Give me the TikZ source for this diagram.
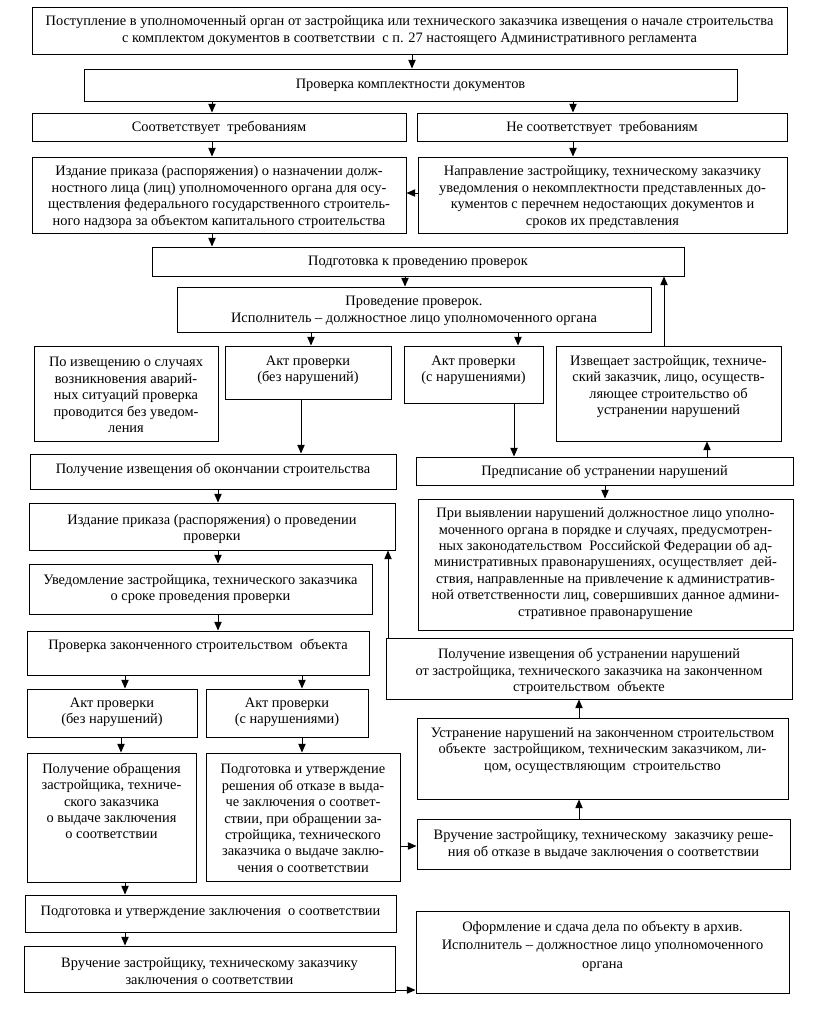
\documentclass[tikz,border=0pt]{standalone}
\usepackage{fontspec}
\setmainfont{Liberation Serif}
\usetikzlibrary{fit,calc,arrows.meta}
\tikzset{
  box/.style={draw, line width=0.75pt, inner sep=0pt, rectangle},
  txt/.style={align=center, inner sep=0pt, font=\fontsize{10.8}{12.3}\selectfont},
  arr/.style={line width=0.7pt, -{Triangle[length=6.5pt,width=5.5pt]}},
}
\newcommand\bx[7]{%
  \node[box, fit={(#2,#3) (#4,#5)}] (#1) {};
  \node[txt] (#1t) at ({(#2+#4)/2},#6) {#7};}
\newcommand\down[3]{\coordinate (tmp#1#2) at (#3,0); \draw[arr] (#1.south -| tmp#1#2) -- (#2.north -| tmp#1#2);}
\newcommand\up[3]{\coordinate (tmp#1#2) at (#3,0); \draw[arr] (#1.north -| tmp#1#2) -- (#2.south -| tmp#1#2);}
\newcommand\toleft[3]{\coordinate (tmp#1#2) at (0,#3); \draw[arr] (#1.west |- tmp#1#2) -- (#2.east |- tmp#1#2);}
\newcommand\toright[3]{\coordinate (tmp#1#2) at (0,#3); \draw[arr] (#1.east |- tmp#1#2) -- (#2.west |- tmp#1#2);}
\begin{document}
\begin{tikzpicture}[x=0.75pt, y=-0.75pt]
\fill[white] (0,0) rectangle (818,1015);
\useasboundingbox (0,0) rectangle (818,1015);

\bx{b1}{32}{7}{787}{54}{30.5}{Поступление в уполномоченный орган от застройщика или технического заказчика извещения о начале строительства\\с комплектом документов в соответствии\ \ с п. 27 настоящего Административного регламента}
\bx{b2}{84}{69}{737}{101}{85}{Проверка комплектности документов}
\bx{b3}{32}{113}{406}{141}{127.5}{Соответствует\ \ требованиям}
\bx{b4}{417}{113}{787}{141}{127.5}{Не соответствует\ \ требованиям}
\bx{b5}{32}{157}{406}{233}{197}{Издание приказа (распоряжения) о назначении долж-\\ностного лица (лиц) уполномоченного органа для осу-\\ществления федерального государственного строитель-\\ного надзора за объектом капитального строительства}
\bx{b6}{418}{157}{787}{233}{197}{Направление застройщику, техническому заказчику\\уведомления о некомплектности представленных до-\\кументов с перечнем недостающих документов и\\сроков их представления}
\bx{b7}{152}{247}{684}{276}{262}{Подготовка к проведению проверок}
\bx{b8}{177}{287}{651}{332}{311}{Проведение проверок.\\Исполнитель – должностное лицо уполномоченного органа}
\bx{b9}{34}{346}{218}{441}{395}{По извещению о случаях\\возникновения аварий-\\ных ситуаций проверка\\проводится без уведом-\\ления}
\bx{b10}{225}{346}{391}{399}{370.5}{Акт проверки\\(без нарушений)}
\bx{b11}{404}{346}{543}{403}{370.5}{Акт проверки\\(с нарушениями)}
\bx{b12}{556}{346}{781}{441}{386.5}{Извещает застройщик, техниче-\\ский заказчик, лицо, осуществ-\\ляющее строительство об\\устранении нарушений}
\bx{b13}{30}{454}{396}{489}{469.5}{Получение извещения об окончании строительства}
\bx{b14}{416}{457}{793}{485}{472}{Предписание об устранении нарушений}
\bx{b15}{29}{503}{395}{550}{529}{Издание приказа (распоряжения) о проведении\\проверки}
\bx{b16}{418}{499}{793}{630}{563.5}{При выявлении нарушений должностное лицо уполно-\\моченного органа в порядке и случаях, предусмотрен-\\ных законодательством\ \ Российской Федерации об ад-\\министративных правонарушениях, осуществляет\ \ дей-\\ствия, направленные на привлечение к административ-\\ной ответственности лиц, совершивших данное админи-\\стративное правонарушение}
\bx{b17}{29}{564}{372}{614}{589}{Уведомление застройщика, технического заказчика\\о сроке проведения проверки}
\bx{b18}{27}{631}{369}{675}{646}{Проверка законченного строительством\ \ объекта}
\bx{b19}{386}{638}{792}{699}{671.5}{Получение извещения об устранении нарушений\\от застройщика, технического заказчика на законченном\\строительством\ \ объекте}
\bx{b20}{27}{689}{197}{737}{712}{Акт проверки\\(без нарушений)}
\bx{b21}{206}{689}{368}{737}{712}{Акт проверки\\(с нарушениями)}
\bx{b22}{417}{718}{788}{799}{750.5}{Устранение нарушений на законченном строительством\\объекте\ \ застройщиком, техническим заказчиком, ли-\\цом, осуществляющим\ \ строительство}
\bx{b23}{27}{753}{196}{882}{801}{Получение обращения\\застройщика, техниче-\\ского заказчика\\о выдаче заключения\\о соответствии}
\bx{b24}{206}{753}{400}{881}{818.5}{Подготовка и утверждение\\решения об отказе в выда-\\че заключения о соответ-\\ствии, при обращении за-\\стройщика, технического\\заказчика о выдаче заклю-\\чения о соответствии}
\bx{b25}{417}{819}{790}{869}{844.5}{Вручение застройщику, техническому\ \ заказчику реше-\\ния об отказе в выдаче заключения о соответствии}
\bx{b26}{25}{895}{396}{932}{912}{Подготовка и утверждение заключения\ \ о соответствии}
\bx{b27}{24}{946}{395}{992}{971}{Вручение застройщику, техническому заказчику\\заключения о соответствии}
\node[box, fit={(416,911) (789,993)}] (b28) {};
\node[txt, font=\fontsize{10.8}{13.8}\selectfont] (b28t) at (602.5,946) {Оформление и сдача дела по объекту в архив.\\Исполнитель – должностное лицо уполномоченного\\органа};

\down{b1}{b2}{412}
\down{b2}{b3}{212}
\down{b2}{b4}{573}
\down{b3}{b5}{212}
\down{b4}{b6}{573}
\toleft{b6}{b5}{193}
\down{b5}{b7}{212}
\down{b7}{b8}{405}
\down{b8}{b10}{311}
\down{b8}{b11}{518}
\up{b12}{b7}{664}
\down{b10}{b13}{301}
\down{b11}{b14}{514}
\up{b14}{b12}{707}
\down{b13}{b15}{218}
\down{b14}{b16}{605}
\down{b15}{b17}{218}
\down{b17}{b18}{218}
\up{b19}{b15}{388}
\down{b18}{b20}{125}
\down{b18}{b21}{302}
\up{b22}{b19}{579}
\down{b20}{b23}{121}
\down{b21}{b24}{302}
\up{b25}{b22}{579}
\toright{b24}{b25}{846}
\down{b23}{b26}{125}
\down{b26}{b27}{125}
\toright{b27}{b28}{990}
\end{tikzpicture}
\end{document}
